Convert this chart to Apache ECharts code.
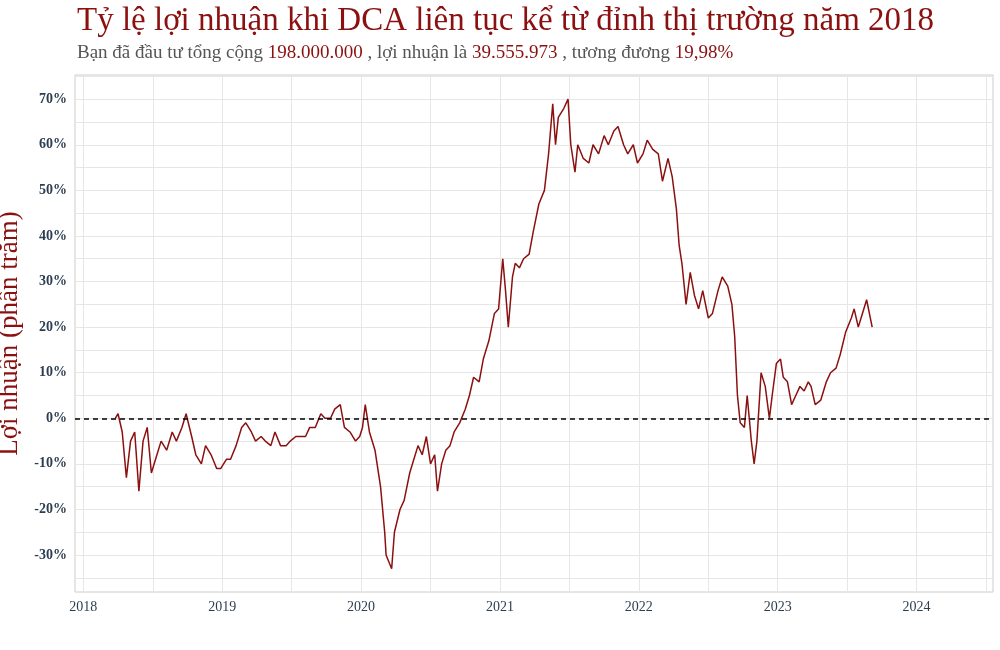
<!DOCTYPE html>
<html lang="vi">
<head>
<meta charset="UTF-8">
<title>DCA</title>
<style>
  html, body { margin: 0; padding: 0; background: #fff; }
  #main { width: 1000px; height: 650px; }
</style>
</head>
<body>
<div id="main"></div>
<script src="https://cdn.jsdelivr.net/npm/echarts@6/dist/echarts.min.js"></script>
<script>
// thời điểm (năm thập phân) và lợi nhuận (%)
var years = [2018.23,2018.25,2018.28,2018.31,2018.34,2018.37,2018.40,2018.43,2018.46,2018.49,2018.53,2018.56,2018.60,2018.64,2018.67,2018.71,2018.74,2018.78,2018.81,2018.85,2018.88,2018.92,2018.96,2018.99,2019.03,2019.06,2019.10,2019.14,2019.17,2019.21,2019.24,2019.28,2019.31,2019.35,2019.38,2019.42,2019.46,2019.49,2019.53,2019.56,2019.60,2019.63,2019.67,2019.71,2019.74,2019.78,2019.81,2019.85,2019.88,2019.92,2019.96,2019.99,2020.01,2020.03,2020.06,2020.10,2020.14,2020.17,2020.18,2020.22,2020.24,2020.28,2020.31,2020.35,2020.38,2020.41,2020.44,2020.47,2020.50,2020.53,2020.55,2020.58,2020.61,2020.64,2020.67,2020.71,2020.75,2020.78,2020.81,2020.85,2020.88,2020.92,2020.96,2020.99,2021.02,2021.04,2021.06,2021.09,2021.11,2021.14,2021.17,2021.21,2021.24,2021.28,2021.32,2021.35,2021.38,2021.40,2021.42,2021.46,2021.49,2021.51,2021.54,2021.56,2021.60,2021.64,2021.67,2021.71,2021.75,2021.78,2021.82,2021.85,2021.89,2021.92,2021.96,2021.99,2022.03,2022.06,2022.10,2022.14,2022.17,2022.21,2022.24,2022.27,2022.29,2022.31,2022.34,2022.37,2022.40,2022.43,2022.46,2022.50,2022.53,2022.57,2022.60,2022.64,2022.67,2022.69,2022.71,2022.73,2022.76,2022.78,2022.81,2022.83,2022.85,2022.88,2022.91,2022.94,2022.96,2022.99,2023.02,2023.04,2023.07,2023.10,2023.13,2023.16,2023.19,2023.22,2023.24,2023.27,2023.31,2023.35,2023.38,2023.42,2023.45,2023.49,2023.53,2023.55,2023.58,2023.61,2023.64,2023.68];
var profit = [0,1,-3,-13,-5,-3,-16,-5,-2,-12,-8,-5,-7,-3,-5,-2,1,-4,-8,-10,-6,-8,-11,-11,-9,-9,-6,-2,-1,-3,-5,-4,-5,-6,-3,-6,-6,-5,-4,-4,-4,-2,-2,1,0,0,2,3,-2,-3,-5,-4,-2,3,-3,-7,-15,-25,-30,-33,-25,-20,-18,-12,-9,-6,-8,-4,-10,-8,-16,-10,-7,-6,-3,-1,2,5,9,8,13,17,23,24,35,28,20,31,34,33,35,36,41,47,50,58,69,60,66,68,70,60,54,60,57,56,60,58,62,60,63,64,60,58,60,56,58,61,59,58,52,57,53,46,38,34,25,32,27,24,28,22,23,28,31,29,25,18,5,-1,-2,5,-5,-10,-5,10,7,0,5,12,13,9,8,3,5,7,6,8,7,3,4,8,10,11,14,19,22,24,20,23,26,20];
var yearLabels = [2018,2019,2020,2021,2022,2023,2024];
var yearGrid = [2018,2018.5,2019,2019.5,2020,2020.5,2021,2021.5,2022,2022.5,2023,2023.5,2024,2024.5];
var pctLabels = [-30,-20,-10,0,10,20,30,40,50,60,70];
var pctGrid = [-35,-30,-25,-20,-15,-10,-5,0,5,10,15,20,25,30,35,40,45,50,55,60,65,70,75];

var series = years.map(function (y, i) { return [y, profit[i]]; });
var red = '#8b1010';
var font = '"Liberation Serif", "DejaVu Serif", serif';

var chart = echarts.init(document.getElementById('main'));
chart.setOption({
    backgroundColor: '#fff',
    textStyle: { fontFamily: font },
    title: {
        text: 'Tỷ lệ lợi nhuận khi DCA liên tục kể từ đỉnh thị trường năm 2018',
        subtext: 'Bạn đã đầu tư tổng cộng {r|198.000.000} , lợi nhuận là {r|39.555.973} , tương đương {r|19,98%}',
        left: 72, top: 0, itemGap: 6,
        textStyle: { color: red, fontSize: 33, fontWeight: 'normal', fontFamily: font },
        subtextStyle: {
            color: '#555', fontSize: 19, fontFamily: font,
            rich: { r: { color: red, fontSize: 19, fontFamily: font } }
        }
    },
    grid: { left: 75, right: 7, top: 75, bottom: 58, outerBoundsMode: 'none', show: true, borderColor: '#ccc', borderWidth: 1 },
    xAxis: {
        type: 'value', min: 2017.94, max: 2024.55,
        axisLine: { show: false },
        axisTick: { show: false, customValues: yearGrid },
        axisLabel: { customValues: yearLabels, color: '#2c3e50', fontSize: 14, fontFamily: font, margin: 8,
            formatter: function (v) { return String(v); } },
        splitLine: { show: true, lineStyle: { color: '#e6e6e6', width: 1 } }
    },
    yAxis: {
        type: 'value', min: -38.1, max: 75.3,
        name: 'Lợi nhuận (phần trăm)', nameLocation: 'middle', nameGap: 50, nameRotate: 90,
        nameTextStyle: { color: red, fontSize: 27, fontFamily: font },
        axisLine: { show: false },
        axisTick: { show: false, customValues: pctGrid },
        axisLabel: {
            customValues: pctLabels, color: '#2c3e50', fontSize: 14, fontWeight: 'bold', fontFamily: font,
            formatter: function (v) { return v + '%'; }
        },
        splitLine: { show: true, lineStyle: { color: '#e6e6e6', width: 1 } }
    },
    series: [{
        type: 'line', data: series, showSymbol: false,
        lineStyle: { color: red, width: 1.5 },
        markLine: {
            silent: true, symbol: 'none', label: { show: false },
            lineStyle: { color: '#000', type: [5, 4], width: 1.5 },
            data: [{ yAxis: 0 }]
        }
    }]
});
</script>
</body>
</html>
